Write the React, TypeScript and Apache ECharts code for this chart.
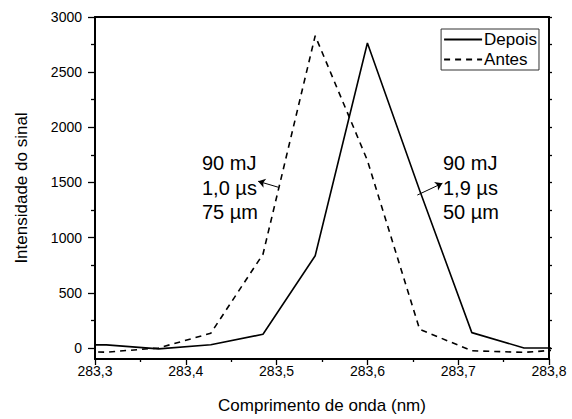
import React, { useEffect, useRef } from "react";
import * as echarts from "echarts";

const waveX = [283.255, 283.3125, 283.37, 283.4275, 283.485, 283.5425, 283.6, 283.6575, 283.715, 283.7725, 283.83];
const depois = [28, 28, -8, 29, 124, 836, 2764, 1430, 139, 0, 0];
const antes = [-28, -38, 0, 133, 850, 2830, 1700, 169, -25, -40, -5];
const yMajor = [0, 500, 1000, 1500, 2000, 2500, 3000];
const yMinor = [250, 750, 1250, 1750, 2250, 2750];
const yAll = [0, 250, 500, 750, 1000, 1250, 1500, 1750, 2000, 2250, 2500, 2750, 3000];
const leftNote = ["90 mJ", "1,0 µs", "75 µm"];
const rightNote = ["90 mJ", "1,9 µs", "50 µm"];

const FONT = "'Liberation Sans', Arial, sans-serif";

export default function App() {
  const ref = useRef<HTMLDivElement>(null);
  useEffect(() => {
    if (!ref.current) return;
    const chart = echarts.init(ref.current, null, { renderer: "svg" });
    const pair = (ys: number[]) => waveX.map((x, i) => [x, ys[i]]);
    const axisLine = () => ({ show: true, onZero: false, lineStyle: { color: "#000", width: 2 } });
    const tickStyle = { color: "#000", width: 1.3 };
    chart.setOption({
      animation: false,
      textStyle: { fontFamily: FONT },
      grid: { left: 95, right: 23, top: 17, bottom: 56, containLabel: false },
      legend: {
        orient: "vertical",
        right: 33,
        top: 29,
        borderColor: "#333",
        borderWidth: 1,
        borderRadius: 0,
        padding: [2, 2, 2, 2],
        itemGap: 3,
        itemWidth: 38,
        itemHeight: 17,
        itemStyle: { opacity: 0 },
        textStyle: { fontSize: 17, color: "#000", fontFamily: FONT, padding: [0, 0, 0, -3] },
        data: ["Depois", "Antes"],
      },
      xAxis: [
        {
          type: "value",
          min: 283.3,
          max: 283.8,
          interval: 0.1,
          position: "bottom",
          name: "Comprimento de onda (nm)",
          nameLocation: "middle",
          nameGap: 38,
          nameTextStyle: { fontSize: 17, color: "#000", fontFamily: FONT },
          axisLine: axisLine(),
          axisTick: { show: true, length: 6, lineStyle: tickStyle },
          minorTick: { show: true, splitNumber: 2, length: 3, lineStyle: tickStyle },
          axisLabel: {
            fontSize: 14,
            color: "#000",
            fontFamily: FONT,
            margin: 5,
            formatter: (v: number) => v.toFixed(1).replace(".", ","),
          },
          splitLine: { show: false },
        },
        {
          type: "value",
          min: 283.3,
          max: 283.8,
          interval: 0.1,
          position: "top",
          axisLine: axisLine(),
          axisTick: { show: false },
          axisLabel: { show: false },
          splitLine: { show: false },
        },
      ],
      yAxis: [
        {
          type: "value",
          min: -100,
          max: 3000,
          position: "left",
          name: "Intensidade do sinal",
          nameLocation: "middle",
          nameGap: 65,
          nameTextStyle: { fontSize: 17, color: "#000", fontFamily: FONT },
          axisLine: axisLine(),
          axisTick: { show: true, length: 7, customValues: yMajor, lineStyle: tickStyle },
          axisLabel: {
            fontSize: 14,
            color: "#000",
            fontFamily: FONT,
            margin: 13,
            customValues: yMajor,
            formatter: (v: number) => String(v),
          },
          splitLine: { show: false },
        },
        {
          type: "value",
          min: -100,
          max: 3000,
          position: "left",
          axisLine: { show: false, onZero: false },
          axisTick: { show: true, length: 4, customValues: yMinor, lineStyle: tickStyle },
          axisLabel: { show: false, customValues: yMinor },
          splitLine: { show: false },
        },
        {
          type: "value",
          min: -100,
          max: 3000,
          position: "right",
          axisLine: axisLine(),
          axisTick: { show: true, length: 3, customValues: yAll, lineStyle: tickStyle },
          axisLabel: { show: false, customValues: yAll },
          splitLine: { show: false },
        },
      ],
      series: [
        {
          name: "Depois",
          type: "line",
          data: pair(depois),
          symbol: "none",
          clip: true,
          lineStyle: { color: "#000", width: 1.6, type: "solid" },
          itemStyle: { color: "#000" },
          markLine: {
            silent: true,
            symbol: ["none", "arrow"],
            symbolSize: 7,
            label: { show: false },
            lineStyle: { color: "#000", width: 1, type: "solid" },
            data: [[{ coord: [283.655, 1386] }, { coord: [283.6826, 1493] }]],
          },
        },
        {
          name: "Antes",
          type: "line",
          data: pair(antes),
          symbol: "none",
          clip: true,
          lineStyle: { color: "#000", width: 1.6, type: [6, 5] },
          itemStyle: { color: "#000" },
          markLine: {
            silent: true,
            symbol: ["none", "arrow"],
            symbolSize: 7,
            label: { show: false },
            lineStyle: { color: "#000", width: 1, type: "solid" },
            data: [[{ coord: [283.5018, 1457] }, { coord: [283.4797, 1511] }]],
          },
        },
      ],
      graphic: [
        {
          type: "text",
          left: 202,
          top: 151,
          style: {
            text: leftNote.join("\n"),
            fontSize: 20,
            lineHeight: 24.5,
            fill: "#000",
            fontFamily: FONT,
          },
        },
        {
          type: "text",
          left: 443,
          top: 151,
          style: {
            text: rightNote.join("\n"),
            fontSize: 20,
            lineHeight: 24.5,
            fill: "#000",
            fontFamily: FONT,
          },
        },
      ],
    });
    return () => chart.dispose();
  }, []);
  return (
    <div
      ref={ref}
      style={{ position: "fixed", left: 0, top: 0, width: 572, height: 419, background: "#fff" }}
    />
  );
}
